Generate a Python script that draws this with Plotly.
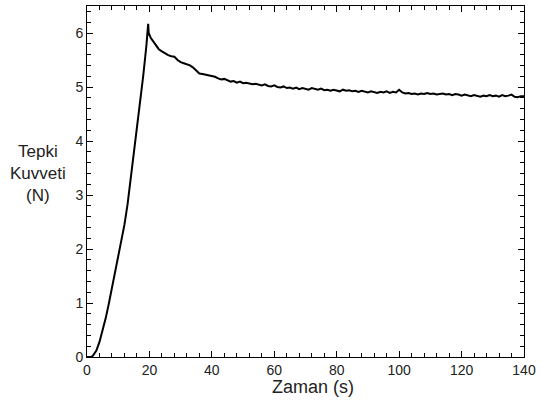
import plotly.graph_objects as go

# Rising part (time s, force N)
rise_x = [0, 1, 1.5, 2, 3, 4, 5, 6, 7, 8, 9, 10, 11, 12, 13, 14, 15, 16, 17, 18, 19, 19.4, 19.6, 19.8, 20.0, 20.4]
rise_y = [0, 0, 0.005, 0.03, 0.12, 0.28, 0.48, 0.72, 0.99, 1.27, 1.56, 1.85, 2.13, 2.45, 2.83, 3.29, 3.78, 4.25, 4.72, 5.20, 5.75, 6.00, 6.17, 5.96, 5.97, 5.91]

# Relaxation part
decay_x = list(range(21, 141))
decay_y = [5.86, 5.76, 5.70, 5.66, 5.62, 5.59, 5.57, 5.56, 5.50, 5.46,
           5.44, 5.42, 5.40, 5.36, 5.30, 5.25, 5.24, 5.23, 5.22, 5.20,
           5.19, 5.16, 5.14, 5.15, 5.12, 5.10, 5.11, 5.08, 5.10, 5.07,
           5.08, 5.06, 5.05, 5.06, 5.04, 5.03, 5.05, 5.02, 5.01, 5.03,
           5.00, 4.99, 5.01, 4.98, 4.99, 4.97, 4.99, 4.96, 4.98, 4.97,
           4.95, 4.98, 4.96, 4.95, 4.97, 4.94, 4.95, 4.93, 4.95, 4.94,
           4.92, 4.95, 4.93, 4.94, 4.92, 4.93, 4.91, 4.93, 4.92, 4.90,
           4.92, 4.91, 4.89, 4.91, 4.90, 4.92, 4.89, 4.91, 4.90, 4.95,
           4.90, 4.88, 4.89, 4.87, 4.88, 4.86, 4.88, 4.87, 4.89, 4.87,
           4.88, 4.86, 4.87, 4.88, 4.86, 4.87, 4.85, 4.87, 4.86, 4.84,
           4.86, 4.85, 4.83, 4.85, 4.84, 4.82, 4.84, 4.83, 4.85, 4.83,
           4.84, 4.82, 4.85, 4.83, 4.84, 4.86, 4.82, 4.81, 4.83, 4.83]

x_tick_vals = [0, 20, 40, 60, 80, 100, 120, 140]
y_tick_vals = [0, 1, 2, 3, 4, 5, 6]

x_data = rise_x + decay_x
y_data = rise_y + decay_y

fig = go.Figure()
fig.add_trace(go.Scatter(x=x_data, y=y_data, mode="lines",
                         line=dict(color="black", width=2), showlegend=False))

font_family = "Liberation Sans, Arial, sans-serif"
axis_common = dict(
    showline=True, linecolor="black", linewidth=1, mirror="allticks",
    ticks="inside", ticklen=6, tickcolor="black", tickwidth=1,
    showgrid=False, zeroline=False,
    tickfont=dict(family=font_family, size=14, color="#222"),
)

fig.update_xaxes(range=[x_tick_vals[0], x_tick_vals[-1]], tickmode="linear",
                 tick0=x_tick_vals[0], dtick=x_tick_vals[1] - x_tick_vals[0],
                 minor=dict(dtick=4, ticks="inside", ticklen=4, tickcolor="black", tickwidth=1, showgrid=False),
                 **axis_common)
fig.update_yaxes(range=[0, 6.5], tickmode="linear",
                 tick0=y_tick_vals[0], dtick=y_tick_vals[1] - y_tick_vals[0],
                 minor=dict(dtick=0.2, ticks="inside", ticklen=4, tickcolor="black", tickwidth=1, showgrid=False),
                 **axis_common)

fig.add_annotation(text="Tepki<br>Kuvveti<br>(N)", xref="paper", yref="paper",
                   x=-0.111, y=0.522, xanchor="center", yanchor="middle",
                   showarrow=False, align="center",
                   font=dict(family=font_family, size=17, color="#222"))
fig.add_annotation(text="Zaman (s)", xref="paper", yref="paper",
                   x=(315 - 87) / 441, y=(357 - 387) / 352, xanchor="center", yanchor="middle",
                   showarrow=False, font=dict(family=font_family, size=18, color="#222"))

fig.update_layout(width=541, height=405, margin=dict(l=87, r=13, t=5, b=48),
                  plot_bgcolor="white", paper_bgcolor="white")

fig.write_html("out.html", config={"displayModeBar": False},
               post_script="document.body.style.margin='0';document.body.style.overflow='hidden';")
